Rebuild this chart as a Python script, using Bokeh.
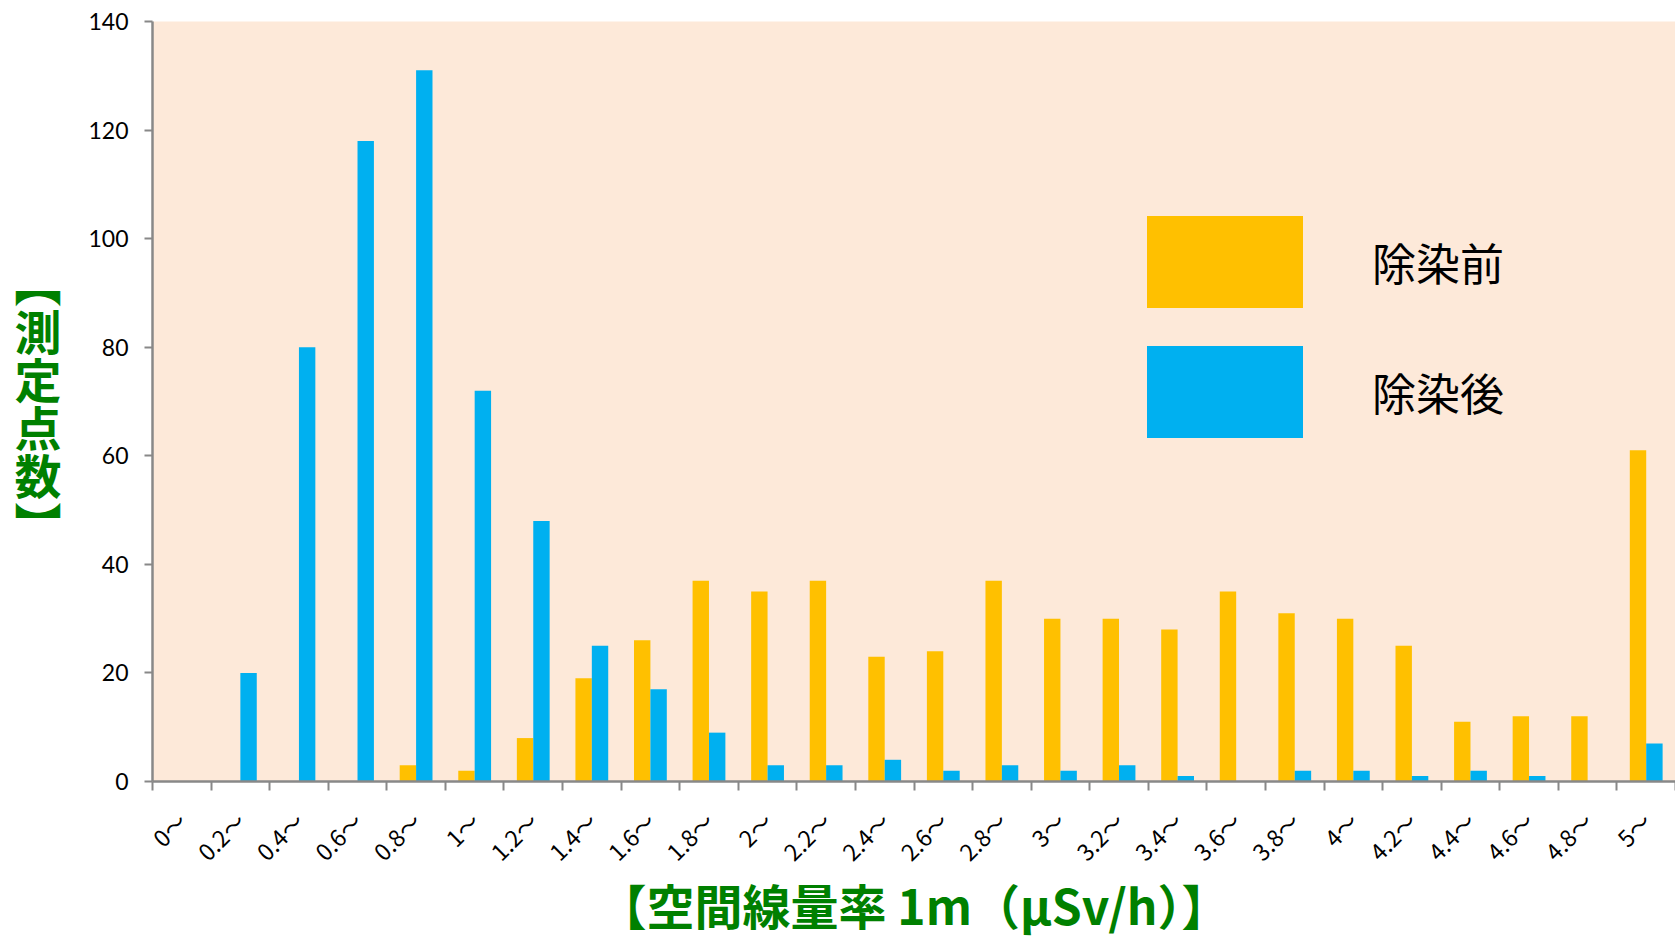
import math
from bokeh.plotting import figure
from bokeh.models import (Range1d, FixedTicker, Legend, LegendItem,
                          ColumnDataSource)
from bokeh.transform import dodge
from bokeh.embed import file_html
from bokeh.resources import INLINE

# ---- data ----
categories = ["0～", "0.2～", "0.4～", "0.6～", "0.8～", "1～", "1.2～", "1.4～",
              "1.6～", "1.8～", "2～", "2.2～", "2.4～", "2.6～", "2.8～", "3～",
              "3.2～", "3.4～", "3.6～", "3.8～", "4～", "4.2～", "4.4～", "4.6～",
              "4.8～", "5～"]
before = [0, 0, 0, 0, 3, 2, 8, 19, 26, 37, 35, 37, 23, 24, 37, 30, 30, 28, 35,
          31, 30, 25, 11, 12, 12, 61]
after = [0, 20, 80, 118, 131, 72, 48, 25, 17, 9, 3, 3, 4, 2, 3, 2, 3, 1, 0, 2,
         2, 1, 2, 1, 0, 7]
y_ticks = [0, 20, 40, 60, 80, 100, 120, 140]
series_names = ["除染前", "除染後"]
x_title = "【空間線量率 1m（μSv/h）】"
y_title = "︻\n測\n定\n点\n数\n︼"

YELLOW = "#FFC000"
BLUE = "#00B0F0"
BG = "#FDE9D9"
GREEN = "#008000"
AXIS = "#888888"

n = len(categories)
idx = list(range(n))
src = ColumnDataSource(dict(x=idx, before=before, after=after))

p = figure(width=1675, height=942, output_backend="svg", toolbar_location=None,
           x_range=Range1d(-0.5, n - 0.5), y_range=Range1d(0, 140),
           min_border_left=152, min_border_right=0, min_border_top=21,
           min_border_bottom=161)
p.background_fill_color = BG
p.border_fill_color = "white"
p.outline_line_color = None
p.grid.visible = False

r1 = p.vbar(x=dodge("x", -0.14), top="before", width=0.28, source=src,
            fill_color=YELLOW, line_color=None)
r2 = p.vbar(x=dodge("x", 0.14), top="after", width=0.28, source=src,
            fill_color=BLUE, line_color=None)

# x axis: labels at category centres, ticks at category boundaries
xa = p.xaxis[0]
xa.ticker = FixedTicker(ticks=idx, minor_ticks=[i - 0.5 for i in range(n + 1)])
xa.major_label_overrides = {i: c for i, c in zip(idx, categories)}
xa.major_tick_line_color = None
xa.major_tick_out = 0
xa.major_tick_in = 0
xa.minor_tick_line_color = AXIS
xa.minor_tick_line_width = 2
xa.minor_tick_out = 9
xa.minor_tick_in = 0
xa.axis_line_color = AXIS
xa.axis_line_width = 2.5
xa.major_label_orientation = math.pi / 4
xa.major_label_standoff = 26
xa.major_label_text_font = "Noto Sans CJK JP"
xa.major_label_text_font_size = "23px"
xa.major_label_text_color = "black"
xa.axis_label = x_title
xa.axis_label_text_font = "Noto Sans CJK JP"
xa.axis_label_text_font_style = "bold"
xa.axis_label_text_font_size = "48px"
xa.axis_label_text_color = GREEN
xa.axis_label_text_baseline = "middle"
xa.axis_label_standoff = -13

ya = p.yaxis[0]
ya.ticker = FixedTicker(ticks=y_ticks)
ya.major_tick_out = 8
ya.major_tick_in = 0
ya.major_tick_line_color = AXIS
ya.major_tick_line_width = 2
ya.minor_tick_line_color = None
ya.axis_line_color = AXIS
ya.axis_line_width = 2.5
ya.major_label_standoff = 16
ya.major_label_text_font = "Lato"
ya.major_label_text_font_size = "23px"
ya.major_label_text_color = "black"
# vertical y title (stacked characters)
ya.axis_label = y_title
ya.axis_label_orientation = "horizontal"
ya.axis_label_text_font = "Noto Sans CJK JP"
ya.axis_label_text_font_style = "bold"
ya.axis_label_text_font_size = "47px"
ya.axis_label_text_color = GREEN
ya.axis_label_text_line_height = 0.7
ya.axis_label_standoff = 24

legend = Legend(items=[LegendItem(label=series_names[0], renderers=[r1]),
                       LegendItem(label=series_names[1], renderers=[r2])],
                location=(975, 332), glyph_width=195, glyph_height=115,
                spacing=15, label_standoff=50, padding=0, margin=0,
                background_fill_alpha=0, border_line_color=None,
                label_text_font="Noto Sans CJK JP",
                label_text_font_size="44px", label_text_color="black")
p.add_layout(legend)

open("out.html", "w").write(file_html(p, INLINE))
